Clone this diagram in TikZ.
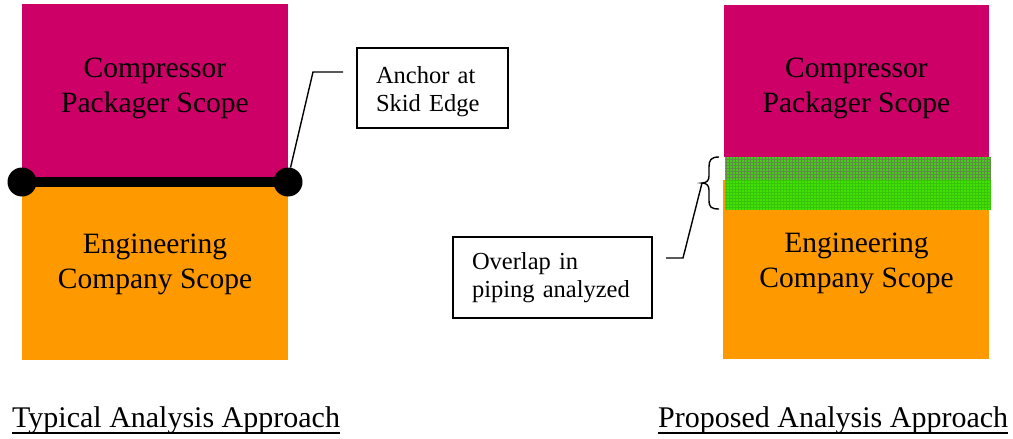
\documentclass[tikz,border=0pt]{standalone}
\usepackage{fontspec}
\setmainfont{Liberation Serif}
\definecolor{packager}{RGB}{204,0,102}
\definecolor{engineering}{RGB}{255,153,0}
\definecolor{overlapdark}{RGB}{70,205,25}
\definecolor{overlapdarkgrid}{RGB}{98,138,72}
\definecolor{overlaplight}{RGB}{66,226,0}
\definecolor{overlaplightgrid}{RGB}{55,196,10}
\begin{document}
\begin{tikzpicture}[x=1pt,y=-1pt,
  scopebox/.style={inner sep=0pt, outer sep=0pt, anchor=north west},
  scopetext/.style={font=\fontsize{29.5}{35}\selectfont, align=center, inner sep=0pt, anchor=base},
  calloutbox/.style={draw=black, line width=1.4pt, fill=white,
    font=\fontsize{24.5}{28.5}\selectfont, align=left, inner xsep=19pt, inner ysep=0pt},
  leader/.style={draw=black, line width=1.4pt},
  skiddot/.style={circle, fill=black, minimum size=29pt, inner sep=0pt},
  heading/.style={font=\fontsize{30}{36}\selectfont, inner sep=0pt, anchor=base west},
]
\useasboundingbox (0,0) rectangle (1013,439);

% ---------- typical approach ----------
\node[scopebox, fill=packager, minimum width=266pt, minimum height=178pt] (packL) at (22,4) {};
\node[scopebox, fill=engineering, minimum width=266pt, minimum height=178pt] (engL) at (22,182) {};
% base anchor of a two-line node sits on its last line
\node[scopetext] (packLtext) at (155,112) {Compressor\\Packager Scope};
\node[scopetext] (engLtext) at (155,288) {Engineering\\Company Scope};

\coordinate (skidL) at (22,182);
\coordinate (skidR) at (288,182);
\draw[line width=10pt] (skidL) -- (skidR);
\node[skiddot] (dotL) at (skidL) {};
\node[skiddot] (dotR) at (skidR) {};

\node[calloutbox, minimum width=151pt, minimum height=80pt, text width=113pt] (anchorbox)
  at (432.5,88) {\rule{0pt}{24pt}Anchor at\\Skid Edge};
\coordinate (anchorbend) at (313,72);
\coordinate (anchorend) at (343,72);
\draw[leader] (dotR.80) -- (anchorbend) -- (anchorend);

% ---------- proposed approach ----------
\node[scopebox, fill=packager, minimum width=265pt, minimum height=152pt] (packR) at (724,5) {};
\node[scopebox, fill=engineering, minimum width=266pt, minimum height=179pt] (engR) at (723,180) {};

% overlap band
\begin{scope}
  \clip (725,157) rectangle (991,180);
  \fill[overlapdark] (725,157) rectangle (991,180);
  \draw[overlapdarkgrid, line width=0.6pt, step=3pt] (724,156) grid (992,181);
\end{scope}
\begin{scope}
  \clip (725,180) rectangle (991,209.5);
  \fill[overlaplight] (725,180) rectangle (991,209.5);
  \draw[overlaplightgrid, line width=0.6pt, step=3pt] (724,179) grid (992,211);
\end{scope}

\node[scopetext] (packRtext) at (856.5,112) {Compressor\\Packager Scope};
\node[scopetext] (engRtext) at (856.5,287) {Engineering\\Company Scope};

% brace marking the overlap
\coordinate (bracetop) at (719,157);
\coordinate (bracetip) at (702,183);
\coordinate (bracebot) at (719,209);
\draw[leader] (bracetop) .. controls (711,157) and (709,160) .. (709,167) -- (709,176)
  .. controls (709,181) and (706,183) .. (bracetip)
  .. controls (706,183) and (709,185) .. (709,190) -- (709,200)
  .. controls (709,207) and (711,209) .. (bracebot);

\node[calloutbox, minimum width=199pt, minimum height=81pt, text width=161pt] (overlapbox)
  at (552.5,277.5) {Overlap in\\piping analyzed};
\coordinate (overlapbend) at (683,258);
\coordinate (overlapend) at (666,258);
\draw[leader] (bracetip) -- (overlapbend) -- (overlapend);

% ---------- headings ----------
\node[heading] (typical) at (12,427) {Typical Analysis Approach};
\node[heading] (proposed) at (658,427) {Proposed Analysis Approach};
\draw[line width=1.8pt] ([yshift=-6pt]typical.base west) -- ([yshift=-6pt]typical.base east);
\draw[line width=1.8pt] ([yshift=-6pt]proposed.base west) -- ([yshift=-6pt]proposed.base east);
\end{tikzpicture}
\end{document}
